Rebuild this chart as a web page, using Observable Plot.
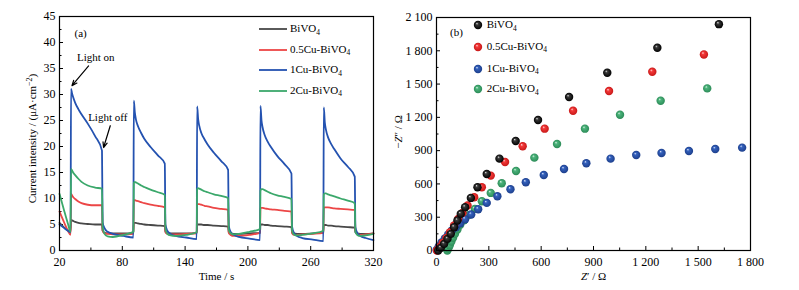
<!DOCTYPE html>
<html><head><meta charset="utf-8">
<script src="https://cdn.jsdelivr.net/npm/d3@7"></script>
<script src="https://cdn.jsdelivr.net/npm/@observablehq/plot@0.6"></script>
<style>
html,body{margin:0;padding:0;background:#fff;}
#wrap{position:relative;width:799px;height:290px;display:flex;font-family:"Liberation Serif","Times New Roman",serif;color:#000;overflow:hidden;}
#wrap svg{display:block;}
.leg{position:absolute;height:16px;display:flex;align-items:center;font-size:11px;white-space:nowrap;line-height:16px;}
.leg sub{font-size:7.5px;position:relative;top:2.5px;vertical-align:baseline;}
</style></head>
<body>
<svg width="0" height="0" style="position:absolute">
<defs>
<radialGradient id="gBlack" cx="0.5" cy="0.5" r="0.5" fx="0.36" fy="0.3"><stop offset="0" stop-color="#e6e6e6"/><stop offset="0.28" stop-color="#3a3a3a"/><stop offset="1" stop-color="#000"/></radialGradient>
<radialGradient id="gRed" cx="0.5" cy="0.5" r="0.5" fx="0.36" fy="0.3"><stop offset="0" stop-color="#ffe0e0"/><stop offset="0.3" stop-color="#f43a3a"/><stop offset="1" stop-color="#c81818"/></radialGradient>
<radialGradient id="gBlue" cx="0.5" cy="0.5" r="0.5" fx="0.36" fy="0.3"><stop offset="0" stop-color="#dfe7fa"/><stop offset="0.3" stop-color="#3461bd"/><stop offset="1" stop-color="#1d3f8c"/></radialGradient>
<radialGradient id="gGreen" cx="0.5" cy="0.5" r="0.5" fx="0.36" fy="0.3"><stop offset="0" stop-color="#e2f6ea"/><stop offset="0.3" stop-color="#4db47c"/><stop offset="1" stop-color="#2c8c58"/></radialGradient>
</defs></svg>
<div id="wrap"><div id="panelA"></div><div id="panelB"></div></div>
<script>
// ---------- Panel (a) data ----------
const time = [
20, 24, 28, 30.6,
31, 32, 33, 35, 38, 41, 47, 54, 60.6, 61.2, 63, 66, 71, 81, 90.6,
91, 92, 93, 95, 98, 101, 107, 114, 120.6, 121.2, 123, 126, 131, 141, 151.1,
151.5, 152.5, 153.5, 155.5, 158.5, 161.5, 167.5, 174.5, 181.1, 181.7, 183.5, 186.5, 191.5, 201.5, 211.6,
212, 213, 214, 216, 219, 222, 228, 235, 241.6, 242.2, 244, 247, 252, 262, 272.1,
272.5, 273.5, 274.5, 276.5, 279.5, 282.5, 288.5, 295.5, 302.1, 302.7, 304.5, 307.5, 312.5, 320
];
const bivo4 = [5.3, 4.5, 3.9, 3.6,
5.9, 5.8, 5.7, 5.5, 5.3, 5.2, 5.1, 5.0, 5.0, 3.8, 3.4, 3.3, 3.3, 3.3, 3.4,
5.3, 5.3, 5.3, 5.2, 5.1, 5.0, 4.9, 4.8, 4.7, 3.6, 3.3, 3.3, 3.3, 3.3, 3.4,
5.0, 5.0, 5.0, 5.0, 4.9, 4.9, 4.8, 4.7, 4.6, 3.5, 3.3, 3.2, 3.2, 3.3, 3.4,
5.0, 5.0, 5.0, 4.9, 4.9, 4.8, 4.7, 4.6, 4.5, 3.5, 3.3, 3.2, 3.2, 3.3, 3.4,
4.9, 4.9, 4.9, 4.8, 4.8, 4.7, 4.6, 4.5, 4.4, 3.5, 3.3, 3.2, 3.2, 3.3];
const cu05 = [7.5, 5.6, 3.8, 3.0,
10.9, 10.6, 10.3, 9.9, 9.4, 9.1, 8.8, 8.7, 8.7, 3.8, 3.3, 3.2, 3.1, 3.1, 3.2,
9.6, 9.7, 9.6, 9.5, 9.3, 9.1, 8.8, 8.6, 8.3, 3.6, 3.2, 3.1, 3.1, 3.2, 3.3,
8.8, 8.9, 8.9, 8.8, 8.6, 8.5, 8.2, 8.0, 7.8, 3.4, 3.0, 2.8, 2.8, 3.0, 3.4,
8.1, 8.2, 8.2, 8.1, 8.0, 7.9, 7.8, 7.6, 7.5, 3.3, 3.0, 3.0, 3.1, 3.2, 3.4,
8.2, 8.3, 8.3, 8.3, 8.2, 8.1, 8.0, 7.9, 7.8, 3.8, 3.2, 3.0, 3.1, 3.3];
const cu1 = [5.0, 4.4, 3.8, 3.5,
31.1, 30.2, 29.5, 28.4, 27.2, 26.2, 24.4, 22.0, 19.2, 5.4, 4.3, 3.6, 3.2, 2.8, 2.5,
28.8, 26.5, 25.2, 23.9, 22.6, 21.5, 19.9, 18.3, 16.7, 5.0, 3.8, 3.2, 2.8, 2.5, 2.2,
27.7, 25.2, 24.0, 22.6, 21.4, 20.4, 18.8, 17.2, 15.5, 4.8, 3.6, 3.0, 2.6, 2.3, 2.0,
27.8, 25.0, 23.7, 22.2, 20.9, 19.9, 18.2, 16.6, 14.8, 4.6, 3.4, 2.8, 2.4, 2.1, 1.8,
27.5, 24.6, 23.3, 21.8, 20.5, 19.5, 17.7, 16.1, 14.2, 4.5, 3.4, 2.8, 2.4, 2.0];
const cu2 = [10.9, 8.0, 5.2, 3.6,
15.7, 15.4, 15.0, 14.5, 13.8, 13.2, 12.5, 12.1, 11.9, 4.5, 3.2, 2.7, 2.6, 3.0, 3.6,
13.0, 13.2, 13.1, 12.9, 12.5, 12.2, 11.7, 11.2, 10.7, 4.2, 3.2, 2.9, 2.8, 3.0, 3.5,
11.8, 12.0, 11.9, 11.7, 11.4, 11.2, 10.8, 10.5, 10.1, 4.0, 3.3, 3.1, 3.2, 3.6, 4.1,
11.5, 11.8, 11.8, 11.6, 11.3, 11.0, 10.6, 10.3, 9.9, 3.8, 3.1, 2.9, 3.0, 3.3, 3.8,
10.8, 11.0, 11.0, 10.8, 10.6, 10.4, 10.0, 9.6, 9.1, 3.6, 3.0, 2.8, 2.9, 3.2];

const seriesNames = ["BiVO4", "0.5Cu-BiVO4", "1Cu-BiVO4", "2Cu-BiVO4"];
const lineColors = ["#484848", "#ec4646", "#2452b0", "#3ba86b"];
const xTicksA = [20, 80, 140, 200, 260, 320];
const xMinorA = [50, 110, 170, 230, 290];
const yTicksA = [0, 5, 10, 15, 20, 25, 30, 35, 40, 45];
const yMinorA = [2.5, 7.5, 12.5, 17.5, 22.5, 27.5, 32.5, 37.5, 42.5];
const annotations = [
  {label: "Light on", x1: 47.8, y1: 35.5, x2: 31.9, y2: 31.7, tx: 54.6, ty: 37.1},
  {label: "Light off", x1: 68.5, y1: 24.0, x2: 62.1, y2: 19.8, tx: 66.1, ty: 25.6}
];

// ---------- Panel (b) data ----------
const bivo4Re = [10, 25, 44, 63, 82, 101, 120, 139, 164, 197, 235, 288, 361, 454, 582, 760, 979, 1266, 1619];
const bivo4Im = [0, 24, 60, 105, 150, 210, 270, 330, 390, 474, 570, 690, 828, 987, 1176, 1383, 1602, 1827, 2040];
const cu05Re = [2, 17, 36, 57, 78, 101, 124, 149, 178, 216, 260, 311, 393, 494, 620, 783, 989, 1237, 1533];
const cu05Im = [0, 30, 69, 114, 165, 225, 285, 339, 405, 480, 570, 675, 798, 939, 1098, 1260, 1437, 1611, 1767];
const cu1Re = [2, 13, 29, 48, 67, 88, 111, 136, 164, 199, 239, 288, 349, 424, 512, 615, 731, 859, 998, 1145, 1290, 1447, 1598, 1752];
const cu1Im = [6, 36, 72, 108, 144, 180, 210, 246, 282, 324, 372, 429, 489, 552, 615, 681, 735, 786, 828, 861, 879, 897, 915, 927];
const cu2Re = [62, 68, 76, 85, 95, 106, 120, 136, 158, 187, 220, 260, 311, 374, 456, 561, 691, 851, 1052, 1285, 1552];
const cu2Im = [0, 20, 48, 80, 115, 150, 190, 231, 273, 321, 375, 444, 519, 606, 717, 837, 960, 1098, 1224, 1350, 1461];
const dotFills = ["url(#gBlack)", "url(#gRed)", "url(#gBlue)", "url(#gGreen)"];
const xTicksB = [0, 300, 600, 900, 1200, 1500, 1800];
const xMinorB = [150, 450, 750, 1050, 1350, 1650];
const yTicksB = [0, 300, 600, 900, 1200, 1500, 1800, 2100];
const yMinorB = [150, 450, 750, 1050, 1350, 1650, 1950];

// ---------- build ----------
const H = 290;
const font = '"Liberation Serif", "Times New Roman", serif';
const valuesA = [bivo4, cu05, cu1, cu2];
const rowsA = seriesNames.flatMap((s, k) => time.map((t, i) => ({t, v: valuesA[k][i], s})));

const mA = {l: 59, r: 27, t: 16, b: 40}, WA = 400;
const ihA = H - mA.t - mA.b, iwA = WA - mA.l - mA.r;
const plotA = Plot.plot({
  width: WA, height: H, marginLeft: mA.l, marginRight: mA.r, marginTop: mA.t, marginBottom: mA.b,
  style: {fontFamily: font, fontSize: "12px", color: "#000", background: "#fff", overflow: "visible"},
  x: {domain: [20, 320]},
  y: {domain: [0, 45]},
  color: {domain: seriesNames, range: lineColors},
  marks: [
    Plot.axisX(xTicksA, {tickSize: 0, tickPadding: 7, label: null, fontSize: 12}),
    Plot.axisY(yTicksA, {tickSize: 0, tickPadding: 4, label: null, fontSize: 12}),
    Plot.tickX(xTicksA, {x: d => d, insetTop: ihA - 4, stroke: "#000"}),
    Plot.tickX(xMinorA, {x: d => d, insetTop: ihA - 2.5, stroke: "#000"}),
    Plot.tickY(yTicksA, {y: d => d, insetRight: iwA - 4, stroke: "#000"}),
    Plot.tickY(yMinorA, {y: d => d, insetRight: iwA - 2.5, stroke: "#000"}),
    Plot.line(rowsA, {x: "t", y: "v", z: "s", stroke: "s", strokeWidth: 1.8, curve: "monotone-x"}),
    Plot.arrow(annotations, {x1: "x1", y1: "y1", x2: "x2", y2: "y2", stroke: "#000", strokeWidth: 1.2, headLength: 7, headAngle: 45}),
    Plot.text(annotations, {x: "tx", y: "ty", text: "label", fontSize: 11}),
    Plot.text(["(a)"], {frameAnchor: "top-left", dx: 15, dy: 17, lineAnchor: "middle", fontSize: 11}),
    Plot.text(["Time / s"], {frameAnchor: "bottom", dy: 26, lineAnchor: "middle", textAnchor: "middle", fontSize: 11}),
    Plot.text(["Current intensity / (μA·cm⁻²)"], {frameAnchor: "left", dx: -27, dy: 5, rotate: -90, textAnchor: "middle", lineAnchor: "middle", fontSize: 11}),
    Plot.frame({stroke: "#000", strokeWidth: 1.2})
  ]
});

const reB = [bivo4Re, cu05Re, cu1Re, cu2Re], imB = [bivo4Im, cu05Im, cu1Im, cu2Im];
const ptsB = seriesNames.map((s, k) => reB[k].map((zr, i) => ({zr, zi: imB[k][i], s})));
const fmtB = d => d >= 1000 ? `${Math.floor(d / 1000)} ${String(d % 1000).padStart(3, "0")}` : String(d);
const mB = {l: 36, r: 49, t: 17, b: 40}, WB = 399;
const ihB = H - mB.t - mB.b, iwB = WB - mB.l - mB.r;
const drawOrder = [3, 2, 1, 0];
const plotB = Plot.plot({
  width: WB, height: H, marginLeft: mB.l, marginRight: mB.r, marginTop: mB.t, marginBottom: mB.b,
  style: {fontFamily: font, fontSize: "12px", color: "#000", background: "#fff", overflow: "visible"},
  x: {domain: [0, 1800]},
  y: {domain: [0, 2100]},
  marks: [
    Plot.axisX(xTicksB, {tickSize: 0, tickPadding: 7, label: null, tickFormat: fmtB, fontSize: 12}),
    Plot.axisY(yTicksB, {tickSize: 0, tickPadding: 4, label: null, tickFormat: fmtB, fontSize: 12}),
    Plot.tickX(xTicksB, {x: d => d, insetTop: ihB - 4, stroke: "#000"}),
    Plot.tickX(xMinorB, {x: d => d, insetTop: ihB - 2.5, stroke: "#000"}),
    Plot.tickY(yTicksB, {y: d => d, insetRight: iwB - 4, stroke: "#000"}),
    Plot.tickY(yMinorB, {y: d => d, insetRight: iwB - 2.5, stroke: "#000"}),
    ...drawOrder.map(k => Plot.dot(ptsB[k], {x: "zr", y: "zi", r: 4.2, fill: dotFills[k], stroke: "none"})),
    Plot.text(["(b)"], {frameAnchor: "top-left", dx: 13.5, dy: 15, lineAnchor: "middle", fontSize: 11}),
    Plot.text(["Z′ / Ω"], {frameAnchor: "bottom", dy: 26, lineAnchor: "middle", textAnchor: "middle", fontSize: 11}),
    Plot.text(["−Z″ / Ω"], {frameAnchor: "left", dx: -38, dy: -2, rotate: -90, textAnchor: "middle", lineAnchor: "middle", fontSize: 11}),
    Plot.frame({stroke: "#000", strokeWidth: 1.2})
  ]
});

document.getElementById("panelA").appendChild(plotA);
document.getElementById("panelB").appendChild(plotB);

// italic Z and superscript in axis titles
d3.selectAll("#wrap text").each(function () {
  const t = this.textContent;
  if (t === "Z′ / Ω") this.innerHTML = '<tspan font-style="italic">Z</tspan>′ / Ω';
  else if (t === "−Z″ / Ω") this.innerHTML = '−<tspan font-style="italic">Z</tspan>″ / Ω';
  else if (t === "Current intensity / (μA·cm⁻²)") this.innerHTML = 'Current intensity / (μA·cm<tspan dy="-4" font-size="8">−2</tspan><tspan dy="4">)</tspan>';
});

// legends
const wrap = document.getElementById("wrap");
const legHtml = s => s.replace(/4$/, "<sub>4</sub>");
const rowYA = [29, 49.5, 70, 90.5];
seriesNames.forEach((s, k) => {
  const div = document.createElement("div");
  div.className = "leg";
  div.style.left = "259px";
  div.style.top = (rowYA[k] - 8) + "px";
  div.innerHTML = `<svg width="28" height="16"><line x1="0" x2="28" y1="8" y2="8" stroke="${lineColors[k]}" stroke-width="1.8"/></svg><span style="margin-left:3px">${legHtml(s)}</span>`;
  wrap.appendChild(div);
});
const rowYB = [25, 46.8, 68.5, 89];
seriesNames.forEach((s, k) => {
  const div = document.createElement("div");
  div.className = "leg";
  div.style.left = "472.7px";
  div.style.top = (rowYB[k] - 8) + "px";
  div.innerHTML = `<svg width="10" height="16"><circle cx="5" cy="8" r="4.2" fill="${dotFills[k]}"/></svg><span style="margin-left:4px">${legHtml(s)}</span>`;
  wrap.appendChild(div);
});
</script>
</body></html>
